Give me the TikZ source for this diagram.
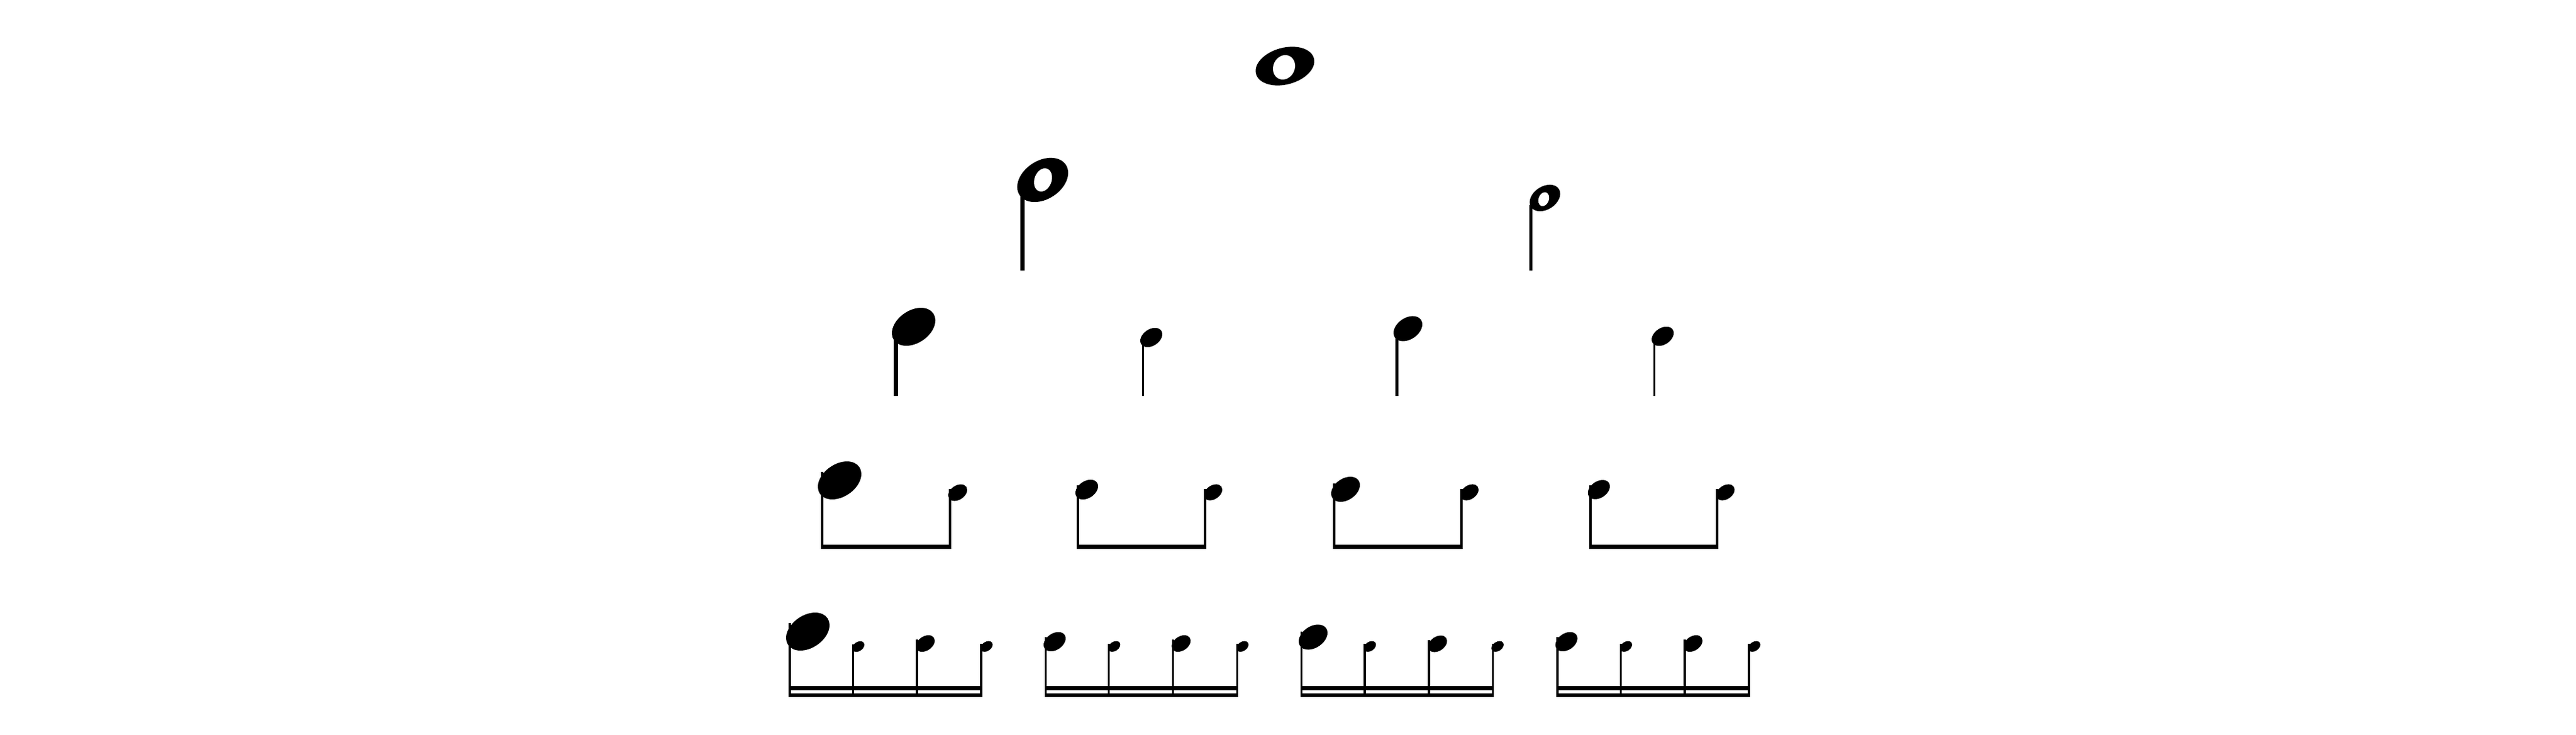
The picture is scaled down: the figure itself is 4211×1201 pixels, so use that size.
\documentclass[tikz,border=0pt]{standalone}
\begin{document}
\begin{tikzpicture}[x=1pt,y=1pt]
\tikzset{stemline/.style={line width=#1pt, line cap=butt, black}}
\useasboundingbox (0,0) rectangle (4211,-1201);
\fill[white] (0,0) rectangle (4211,-1201);
% filled notehead: cx, cy(image), width
\newcommand\qhd[3]{\begin{scope}[shift={(#1,-#2)},rotate=34]\fill[black] (0,0) ellipse [x radius={0.548*#3}, y radius={0.375*#3}];\end{scope}}
% stem: x, width, top y, bottom y (image coords)
\newcommand\stm[4]{\draw[stemline=#2] (#1,-#3) -- (#1,-#4);}
% beam: x1, x2, y1, y2
\newcommand\bm[4]{\fill[black] (#1,-#3) rectangle (#2,-#4);}
% half notehead: cx, cy, scale, hole dx, hole dy
\newcommand\hhd[5]{\begin{scope}[shift={(#1,-#2)}]
\fill[black,rotate=33] (0,0) ellipse [x radius={45.2*#3}, y radius={31.5*#3}];
\fill[white,shift={(#4,#5)},rotate=-20] (0,0) ellipse [x radius={14*#3}, y radius={19.5*#3}];
\end{scope}}

% ---- row 1: whole note
\begin{scope}[shift={(2100.5,-108)}]
\fill[black,rotate=15] (0,0) ellipse [x radius=49, y radius=30];
\fill[white,shift={(-1.5,-2)},rotate=-25] (0,0) ellipse [x radius=17.5, y radius=20.5];
\end{scope}

% ---- row 2: half notes
\stm{1671.5}{7}{310}{442}
\hhd{1704.5}{294}{1}{0.5}{0}
\stm{2502.5}{5}{335}{442}
\hhd{2525.5}{323.5}{0.6}{-2}{-2}

% ---- row 3: quarter notes
\stm{1464.5}{6.5}{550}{647}
\qhd{1493.5}{534}{71}
\stm{1868.5}{3.5}{560}{647}
\qhd{1882}{551.5}{36}
\stm{2283.3}{4.7}{550}{647}
\qhd{2301.5}{537}{47}
\stm{2704.3}{3.4}{558}{647}
\qhd{2718}{549.5}{36}

% ---- row 4: eighth notes
\foreach \sx/\cx/\cy/\w in {1343.7/1372.5/785/71, 1552.8/1565.5/805/31,
  1762.3/1776.5/800/37, 1970/1983/804.5/30,
  2181/2199.5/799.5/47, 2388.7/2402/804.5/30,
  2599.5/2613.7/800/36, 2807.3/2820.5/804.5/30}{
  \stm{\sx}{4}{\cy+0.2*\w}{897}
  \qhd{\cx}{\cy}{\w}
}
\bm{1341.7}{1555}{890}{897}
\bm{1760.3}{1972}{890}{897}
\bm{2179}{2390.7}{890}{897}
\bm{2597.5}{2809.3}{890}{897}

% ---- row 5: sixteenth notes
\foreach \sx/\cx/\cy/\w in {1291/1320.5/1032/71, 1394.3/1403/1056.5/20,
  1499/1512.5/1051.5/31, 1604/1612.7/1056.3/20,
  1709.3/1724/1048.5/36, 1812.6/1821.3/1056.3/20,
  1917.3/1930.8/1051.5/31, 2022.3/2031/1056.3/20,
  2127.7/2146.5/1041/47, 2231/2239.3/1056.3/20,
  2336/2350/1052/31, 2440.7/2448/1056.3/20,
  2546/2560.6/1048.5/36, 2649.3/2658/1056.3/20,
  2754/2767.5/1051.5/31, 2859/2867.7/1056.3/20}{
  \stm{\sx}{3.4}{\cy+0.2*\w}{1139}
  \qhd{\cx}{\cy}{\w}
}
\foreach \a/\b in {1289.3/1605.7, 1707.6/2024, 2126/2442.4, 2544.3/2860.7}{
  \bm{\a}{\b}{1121}{1128}
  \bm{\a}{\b}{1133}{1139}
}
\end{tikzpicture}
\end{document}
